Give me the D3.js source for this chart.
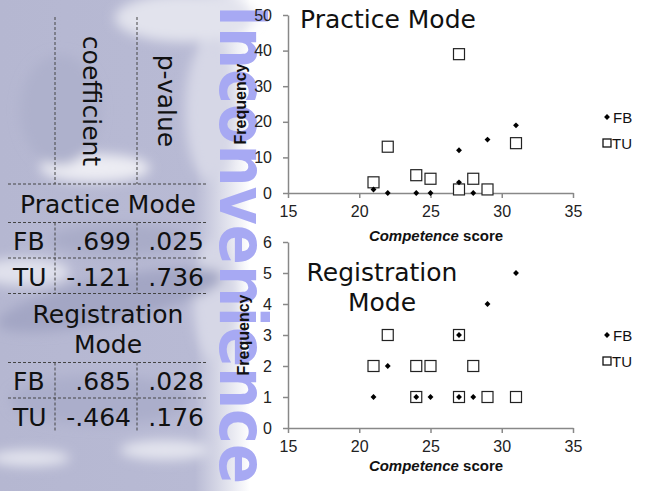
<!DOCTYPE html>
<html>
<head>
<meta charset="utf-8">
<script src="https://cdn.jsdelivr.net/npm/d3@7"></script>
<style>
  html, body { margin: 0; padding: 0; background: #fff; }
  svg { display: block; }
</style>
</head>
<body>
<div id="chart"></div>
<script>
// ---- data ----
const xTicks = [15, 20, 25, 30, 35];
const practiceTicks = [0, 10, 20, 30, 40, 50];
const registrationTicks = [0, 1, 2, 3, 4, 5, 6];

// [competence score, frequency]
const practiceFB = [[21, 1], [22, 0], [24, 0], [25, 0], [27, 3], [27, 12], [28, 0], [29, 15], [31, 19]];
const practiceTU = [[21, 3], [22, 13], [24, 5], [25, 4], [27, 39], [27, 1], [28, 4], [29, 1], [31, 14]];
const registrationFB = [[21, 1], [22, 2], [24, 1], [25, 1], [27, 1], [27, 3], [28, 1], [29, 4], [31, 5]];
const registrationTU = [[21, 2], [22, 3], [24, 1], [24, 2], [25, 2], [27, 1], [27, 3], [28, 2], [29, 1], [31, 1]];

const tableHeader = ['coefficient', 'p-value'];
const practiceRows = [['FB', '.699', '.025'], ['TU', '-.121', '.736']];
const registrationRows = [['FB', '.685', '.028'], ['TU', '-.464', '.176']];
const seriesNames = ['FB', 'TU'];

const W = 649, H = 491;
const svg = d3.select('#chart').append('svg').attr('width', W).attr('height', H);
const defs = svg.append('defs');

// ---- blurred map-like background on the left ----
defs.append('filter').attr('id', 'blur').attr('x', '-50%').attr('y', '-50%').attr('width', '200%').attr('height', '200%')
    .append('feGaussianBlur').attr('stdDeviation', 6);
const fade = defs.append('linearGradient').attr('id', 'fade').attr('x1', 0).attr('x2', 1).attr('y1', 0).attr('y2', 0);
fade.append('stop').attr('offset', 0).attr('stop-color', '#b5b7d1');
fade.append('stop').attr('offset', 0.78).attr('stop-color', '#b8bad4');
fade.append('stop').attr('offset', 1).attr('stop-color', '#ffffff');

const bg = svg.append('g');
bg.append('rect').attr('x', 0).attr('y', 0).attr('width', 250).attr('height', H).attr('fill', 'url(#fade)');
const blobs = bg.append('g').attr('filter', 'url(#blur)');
// lighter patches
[[185, 18, 70, 24, '#e2e3ed'], [210, 110, 25, 70, '#d6d7e6'], [95, 168, 55, 14, '#ececf3'], [25, 272, 45, 14, '#e0e1ec'],
 [30, 458, 40, 8, '#e3e4ee'], [165, 450, 45, 10, '#e3e4ee'], [215, 300, 22, 60, '#d6d7e6']]
    .forEach(([cx, cy, rx, ry, c]) => blobs.append('ellipse').attr('cx', cx).attr('cy', cy).attr('rx', rx).attr('ry', ry).attr('fill', c));
// darker patches
[[110, 300, 115, 22, '#a3a6c4', -12], [60, 110, 40, 55, '#aeb1cc', 0], [100, 400, 90, 25, '#abaecb', 0], [120, 240, 70, 16, '#a9acc8', 0]]
    .forEach(([cx, cy, rx, ry, c, r]) => blobs.append('ellipse').attr('cx', cx).attr('cy', cy).attr('rx', rx).attr('ry', ry)
        .attr('fill', c).attr('transform', `rotate(${r},${cx},${cy})`));

// ---- vertical word ----
svg.append('text')
    .attr('transform', 'translate(220,5) rotate(90) scale(1,1.12)')
    .attr('font-family', 'DejaVu Sans')
    .attr('font-weight', 'bold')
    .attr('font-size', 59)
    .attr('fill', '#a7a9f3')
    .text('Inconvenience');

// ---- table ----
const table = svg.append('g').attr('font-family', 'DejaVu Sans').attr('font-size', 25).attr('fill', '#111');
const dashed = sel => sel.attr('stroke', '#444').attr('stroke-width', 1).attr('stroke-dasharray', '3,2');
const colX = [8, 55, 137, 208];
const rowH = 35.5;

function hline(y) { table.append('line').attr('x1', colX[0]).attr('x2', colX[3]).attr('y1', y).attr('y2', y).call(dashed); }
function vlines(y1, y2) {
    [colX[1], colX[2]].forEach(x => table.append('line').attr('x1', x).attr('x2', x).attr('y1', y1).attr('y2', y2).call(dashed));
}

vlines(17, 184);
hline(184);
tableHeader.forEach((t, i) => {
    const cx = i === 0 ? 92 : 167;
    table.append('text').attr('transform', `translate(${cx - 9},101) rotate(90)`)
        .attr('text-anchor', 'middle').text(t);
});

function group(lines, firstBase, rows, last) {
    lines.forEach((t, i) => table.append('text').attr('x', 108).attr('y', firstBase + i * 30)
        .attr('text-anchor', 'middle').text(t));
    const blockTop = firstBase + (lines.length - 1) * 30 + 9.5;
    hline(blockTop);
    rows.forEach((r, i) => {
        const base = blockTop + 27.5 + i * rowH;
        table.append('text').attr('x', 13).attr('y', base).text(r[0]);
        table.append('text').attr('x', 131).attr('y', base).attr('text-anchor', 'end').text(r[1]);
        table.append('text').attr('x', 204).attr('y', base).attr('text-anchor', 'end').text(r[2]);
        if (i < rows.length - 1 || !last) hline(blockTop + (i + 1) * rowH);
    });
    vlines(blockTop, blockTop + rows.length * rowH - (last ? 3 : 0));
    return blockTop + rows.length * rowH;
}
group(['Practice Mode'], 213, practiceRows, false);
group(['Registration', 'Mode'], 323, registrationRows, true);

// ---- scatter plots ----
const x = d3.scaleLinear().domain([15, 35]).range([288, 573]);

function scatter(cfg) {
    const y = d3.scaleLinear().domain(cfg.domain).range(cfg.range);
    const g = svg.append('g');

    const yAxis = g.append('g').attr('transform', `translate(${x(15)},0)`)
        .call(d3.axisLeft(y).tickValues(cfg.ticks).tickFormat(d3.format('d')).tickSize(5).tickSizeOuter(0).tickPadding(11));
    const xAxis = g.append('g').attr('transform', `translate(0,${y(0)})`)
        .call(d3.axisBottom(x).tickValues(xTicks).tickFormat(d3.format('d')).tickSize(5).tickSizeOuter(0).tickPadding(8));
    [yAxis, xAxis].forEach(a => {
        a.selectAll('path, line').attr('stroke', '#888').attr('stroke-width', 1.5);
        a.selectAll('text').attr('font-family', 'Liberation Sans, Arial').attr('font-size', 16).attr('fill', '#222');
    });

    g.append('text').attr('transform', `translate(${cfg.freqX},${(cfg.range[0] + cfg.range[1]) / 2}) rotate(-90)`)
        .attr('text-anchor', 'middle').attr('font-family', 'Liberation Sans, Arial').attr('font-weight', 'bold')
        .attr('font-size', 16).attr('fill', '#111').text('Frequency');

    const xl = g.append('text').attr('x', 436).attr('y', cfg.xLabelY).attr('text-anchor', 'middle')
        .attr('font-family', 'Liberation Sans, Arial').attr('font-weight', 'bold').attr('font-size', 15).attr('fill', '#111');
    xl.append('tspan').attr('font-style', 'italic').text('Competence');
    xl.append('tspan').text(' score');

    cfg.title.forEach((t, i) => g.append('text').attr('x', cfg.titleX).attr('y', cfg.titleY + i * 30)
        .attr('text-anchor', cfg.titleAnchor).attr('font-family', 'DejaVu Sans').attr('font-size', 25).attr('fill', '#111').text(t));

    g.append('g').selectAll('rect').data(cfg.tu).join('rect')
        .attr('x', d => x(d[0]) - 5.5).attr('y', d => y(d[1]) - 5.5).attr('width', 11).attr('height', 11)
        .attr('fill', '#fff').attr('stroke', '#222').attr('stroke-width', 1.2);
    const diamond = d3.symbol().type(d3.symbolDiamond2).size(22);
    g.append('g').selectAll('path').data(cfg.fb).join('path')
        .attr('transform', d => `translate(${x(d[0])},${y(d[1])})`)
        .attr('d', diamond).attr('fill', '#000');

    // legend
    const lg = g.append('g').attr('font-family', 'Liberation Sans, Arial').attr('font-size', 15).attr('fill', '#111');
    seriesNames.forEach((name, i) => {
        const ly = cfg.legendY + i * 26;
        if (name === 'FB') lg.append('path').attr('transform', `translate(607,${ly})`).attr('d', diamond).attr('fill', '#000');
        else lg.append('rect').attr('x', 603).attr('y', ly - 4).attr('width', 8).attr('height', 8)
            .attr('fill', '#fff').attr('stroke', '#111').attr('stroke-width', 1.3);
        lg.append('text').attr('x', name === 'FB' ? 613 : 612).attr('y', ly + 5.5).text(name);
    });
}

scatter({
    domain: [0, 50], range: [193, 15], ticks: practiceTicks,
    fb: practiceFB, tu: practiceTU,
    title: ['Practice Mode'], titleX: 300, titleY: 28, titleAnchor: 'start',
    freqX: 246, xLabelY: 241, legendY: 117
});
scatter({
    domain: [0, 6], range: [428, 242], ticks: registrationTicks,
    fb: registrationFB, tu: registrationTU,
    title: ['Registration', 'Mode'], titleX: 382, titleY: 281, titleAnchor: 'middle',
    freqX: 249, xLabelY: 471, legendY: 335
});
</script>
</body>
</html>
